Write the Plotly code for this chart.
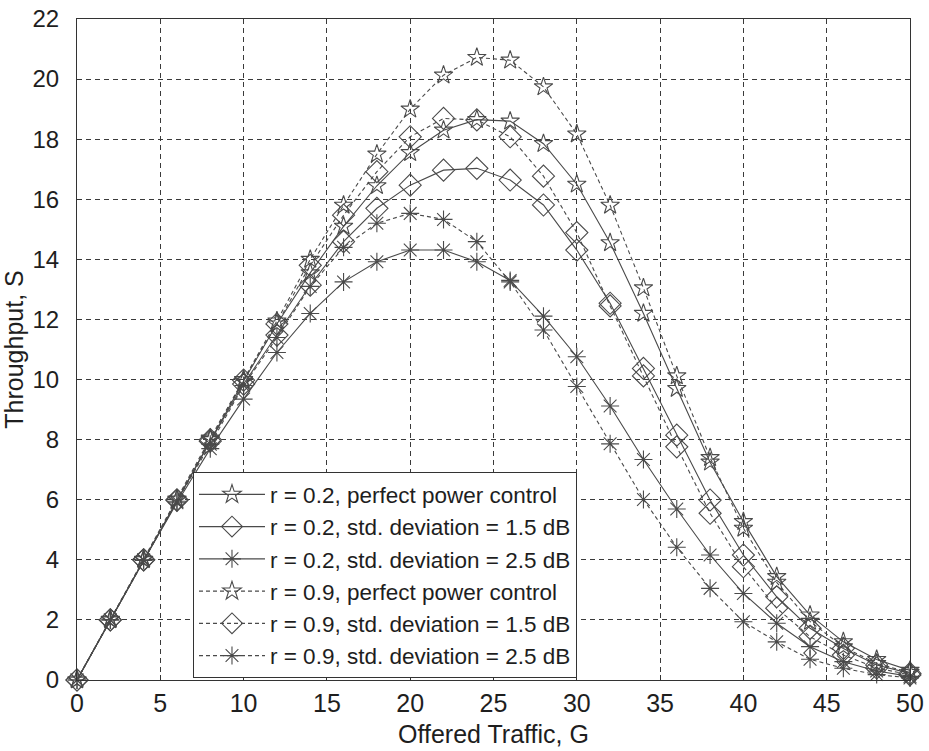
import plotly.graph_objects as go

# Offered traffic G (x) and throughput S (y) for each scenario
G = [0, 2, 4, 6, 8, 10, 12, 14, 16, 18, 20, 22, 24, 26, 28, 30, 32, 34, 36, 38, 40, 42, 44, 46, 48, 50]

s_r02_perfect = [0, 2.0, 4.0, 6.0, 8.0, 9.95, 11.85, 13.55, 15.1, 16.45, 17.55, 18.3, 18.65, 18.6,
                 17.85, 16.5, 14.55, 12.2, 9.7, 7.25, 5.27, 3.44, 2.16, 1.27, 0.68, 0.32]
s_r02_std15 = [0, 2.0, 4.0, 5.98, 7.95, 9.85, 11.48, 13.14, 14.59, 15.7, 16.47, 16.97, 17.03, 16.64,
               15.81, 14.31, 12.54, 10.37, 8.15, 5.99, 4.16, 2.77, 1.72, 1.05, 0.5, 0.22]
s_r02_std25 = [0, 2.0, 3.98, 5.9, 7.7, 9.35, 10.9, 12.2, 13.25, 13.92, 14.31, 14.31, 13.92, 13.3,
               12.11, 10.76, 9.12, 7.34, 5.69, 4.16, 2.88, 1.89, 1.11, 0.61, 0.3, 0.12]
s_r09_perfect = [0, 2.02, 4.02, 6.02, 8.05, 10.0, 11.95, 14.0, 15.8, 17.5, 19.0, 20.13, 20.72, 20.63,
                 19.74, 18.17, 15.8, 13.05, 10.12, 7.4, 5.05, 3.25, 1.95, 1.1, 0.55, 0.25]
s_r09_std15 = [0, 2.0, 4.0, 6.0, 8.0, 9.98, 11.85, 13.8, 15.47, 16.92, 18.08, 18.69, 18.64, 18.08,
               16.77, 14.89, 12.45, 10.12, 7.76, 5.55, 3.77, 2.39, 1.44, 0.83, 0.4, 0.17]
s_r09_std25 = [0, 2.0, 4.0, 5.95, 7.85, 9.8, 11.4, 13.1, 14.4, 15.2, 15.53, 15.33, 14.59, 13.25,
               11.65, 9.77, 7.86, 6.01, 4.42, 3.05, 1.94, 1.27, 0.69, 0.39, 0.18, 0.07]

names = [
    "r = 0.2, perfect power control",
    "r = 0.2, std. deviation = 1.5 dB",
    "r = 0.2, std. deviation = 2.5 dB",
    "r = 0.9, perfect power control",
    "r = 0.9, std. deviation = 1.5 dB",
    "r = 0.9, std. deviation = 2.5 dB",
]
series = [s_r02_perfect, s_r02_std15, s_r02_std25, s_r09_perfect, s_r09_std15, s_r09_std25]
symbols = ["star-open", "diamond-open", "asterisk-open"] * 2
sizes = [14, 17, 15] * 2
dashes = ["solid"] * 3 + ["4px,3px"] * 3

LINE = "#4a4a4a"
TXT = "#1e1e1e"
FONT = "Liberation Sans, Arial, sans-serif"

fig = go.Figure()
for name, ys, sym, sz, dash in zip(names, series, symbols, sizes, dashes):
    fig.add_trace(go.Scatter(
        x=G, y=ys, name=name, mode="lines+markers",
        line=dict(color=LINE, width=1.1, dash=dash),
        marker=dict(symbol=sym, size=sz, color=LINE,
                    line=dict(color=LINE, width=1.1)),
        cliponaxis=False,
    ))

axis_common = dict(
    showgrid=True, gridcolor="#3a3a3a", gridwidth=1, griddash="5px,4px",
    showline=True, linecolor="#333333", linewidth=1.2, mirror=True,
    ticks="inside", ticklen=5, tickcolor="#333333",
    zeroline=False, automargin=False,
)

fig.update_xaxes(
    range=[0, 50], dtick=5, tick0=0,
    tickfont=dict(family=FONT, size=25, color=TXT),
    title=dict(text="Offered Traffic, G", font=dict(family=FONT, size=25, color=TXT), standoff=9),
    ticklabelstandoff=1,
    **axis_common,
)
fig.update_yaxes(
    range=[0, 22], dtick=2, tick0=0,
    tickfont=dict(family=FONT, size=24, color=TXT),
    title=dict(text="Throughput, S", font=dict(family=FONT, size=25, color=TXT), standoff=4),
    ticklabelstandoff=12,
    **axis_common,
)

fig.update_layout(
    width=929, height=751,
    margin=dict(l=77, r=19, t=19, b=71),
    paper_bgcolor="white", plot_bgcolor="white",
    showlegend=True,
    legend=dict(
        x=0.139, y=0.003, xanchor="left", yanchor="bottom",
        bgcolor="white", bordercolor="#333333", borderwidth=1.2,
        font=dict(family=FONT, size=22.5, color=TXT),
        tracegroupgap=0, itemwidth=66,
    ),
)

fig.write_html("out.html")
